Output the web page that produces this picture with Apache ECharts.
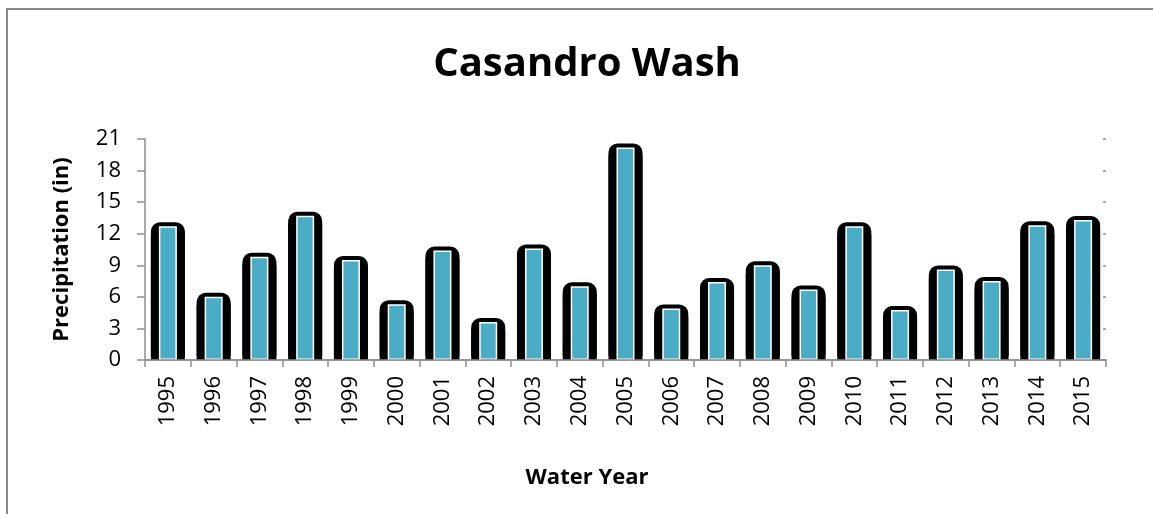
<!DOCTYPE html>
<html>
<head>
<meta charset="utf-8">
<script src="https://cdn.jsdelivr.net/npm/echarts@6/dist/echarts.min.js"></script>
<style>html,body{margin:0;padding:0;background:#fff}#c{width:1153px;height:514px}</style>
</head>
<body>
<div id="c"></div>
<script>
const years = ['1995','1996','1997','1998','1999','2000','2001','2002','2003','2004','2005','2006','2007','2008','2009','2010','2011','2012','2013','2014','2015'];
const precipitation = [12.7, 6.0, 9.8, 13.7, 9.5, 5.3, 10.4, 3.6, 10.6, 7.0, 20.2, 4.9, 7.4, 9.0, 6.7, 12.7, 4.75, 8.6, 7.5, 12.8, 13.3];
const yTicks = {min: 0, max: 21, interval: 3};

const axisGray = '#8e8e8e';
const font = 'Open Sans';
const chart = echarts.init(document.getElementById('c'), null, {renderer: 'canvas'});
chart.setOption({
  animation: false,
  backgroundColor: '#fff',
  title: [
    {text: 'Casandro Wash', left: 582, top: 40, textAlign: 'center',
     textStyle: {fontFamily: font, fontWeight: 'bold', fontSize: 40, color: '#000'}},
    {text: 'Water Year', left: 582, top: 462, textAlign: 'center',
     textStyle: {fontFamily: font, fontWeight: 'bold', fontSize: 22, color: '#000'}}
  ],
  graphic: [{type: 'rect', shape: {x: 7, y: 9, width: 1300, height: 700},
    style: {fill: 'none', stroke: '#888', lineWidth: 2}, silent: true}],
  grid: {left: 145, right: 47, top: 139, bottom: 154},
  xAxis: [
    {type: 'category', data: years, position: 'bottom', z: 10,
     axisLine: {lineStyle: {color: axisGray, width: 1.5}},
     axisTick: {show: true, interval: 0, length: 7, lineStyle: {color: axisGray, width: 1.5}},
     axisLabel: {rotate: 90, interval: 0, margin: 16, fontFamily: font, fontSize: 22, color: '#000'}},
    {type: 'category', data: years, position: 'top',
     axisLine: {lineStyle: {color: axisGray, width: 1.5}},
     axisTick: {show: false}, axisLabel: {show: false}}
  ],
  yAxis: [
    {type: 'value', min: yTicks.min, max: yTicks.max, interval: yTicks.interval,
     name: 'Precipitation (in)', nameLocation: 'middle', nameGap: 72,
     nameTextStyle: {fontFamily: font, fontWeight: 'bold', fontSize: 22, color: '#000'},
     axisLine: {show: true, lineStyle: {color: axisGray, width: 1.5}},
     axisTick: {show: true, length: 8, lineStyle: {color: axisGray, width: 1.5}},
     axisLabel: {margin: 24, fontFamily: font, fontSize: 22, color: '#000'},
     splitLine: {show: false}},
    {type: 'value', position: 'right', min: yTicks.min, max: yTicks.max, interval: yTicks.interval,
     axisLine: {show: false},
     axisTick: {show: true, inside: true, length: 3, lineStyle: {color: axisGray, width: 1.5}},
     axisLabel: {show: false}, splitLine: {show: false}}
  ],
  series: [
    {type: 'bar', name: 'outline', data: precipitation, xAxisIndex: 0, barWidth: 34, silent: true,
     itemStyle: {color: '#000', borderRadius: [9, 9, 0, 0], shadowColor: '#000', shadowBlur: 0, shadowOffsetY: -4}},
    {type: 'bar', name: 'Precipitation', data: precipitation, xAxisIndex: 1, barWidth: 18, silent: true,
     itemStyle: {color: '#4BACC6', borderColor: '#fff', borderWidth: 1.5}}
  ]
});
</script>
</body>
</html>
